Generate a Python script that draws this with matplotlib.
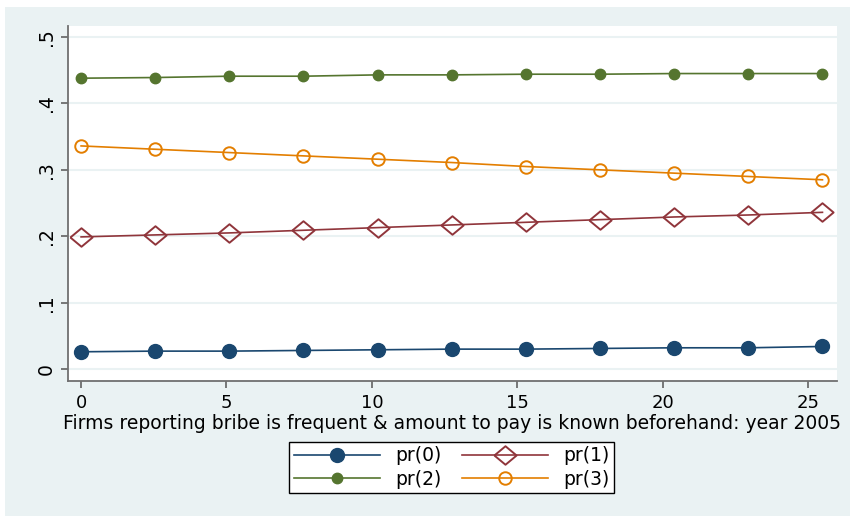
import matplotlib
matplotlib.use("Agg")
import matplotlib.pyplot as plt
from matplotlib.patches import Rectangle

plt.rcParams['font.family'] = ['DejaVu Sans']

x = [0, 2.55, 5.1, 7.65, 10.2, 12.75, 15.3, 17.85, 20.4, 22.95, 25.5]
pr0 = [0.026, 0.027, 0.027, 0.028, 0.029, 0.030, 0.030, 0.031, 0.032, 0.032, 0.034]
pr1 = [0.199, 0.202, 0.205, 0.209, 0.213, 0.217, 0.221, 0.225, 0.229, 0.232, 0.236]
pr2 = [0.438, 0.439, 0.441, 0.441, 0.443, 0.443, 0.444, 0.444, 0.445, 0.445, 0.445]
pr3 = [0.336, 0.331, 0.326, 0.321, 0.316, 0.311, 0.305, 0.300, 0.295, 0.290, 0.285]
labels = ["pr(0)", "pr(1)", "pr(2)", "pr(3)"]
xticks = [0, 5, 10, 15, 20, 25]
yticks = [0, 0.1, 0.2, 0.3, 0.4, 0.5]
yticklabels = ["0", ".1", ".2", ".3", ".4", ".5"]
xlabel = "Firms reporting bribe is frequent & amount to pay is known beforehand: year 2005"

W, H = 850, 516
fig = plt.figure(figsize=(8.5, 5.16), dpi=100)
fig.patch.set_facecolor("white")
bg = "#EAF2F3"
fig.patches.append(Rectangle((5 / W, 0), 845 / W, (H - 7) / H, transform=fig.transFigure,
                             facecolor=bg, edgecolor="none", zorder=-10))

ax = fig.add_axes([68 / W, 1 - 381 / H, (837 - 68) / W, (381 - 26) / H])
ax.set_facecolor("white")

navy = "#1A476F"
maroon = "#90353B"
green = "#55752F"
orange = "#E37E00"

diamond = [(-1.2, 0), (0, 1), (1.2, 0), (0, -1), (-1.2, 0)]

l0, = ax.plot(x, pr0, color=navy, lw=1.2, marker="o", ms=10, mfc=navy, mec=navy, label=labels[0], zorder=3)
l1, = ax.plot(x, pr1, color=maroon, lw=1.2, marker=diamond, ms=16, mfc="none", mec=maroon, mew=1.4, label=labels[1], zorder=3)
l2, = ax.plot(x, pr2, color=green, lw=1.2, marker="o", ms=7.5, mfc=green, mec=green, label=labels[2], zorder=3)
l3, = ax.plot(x, pr3, color=orange, lw=1.2, marker="o", ms=9, mfc="none", mec=orange, mew=1.4, label=labels[3], zorder=3)

ax.set_xlim(-0.45, 26.0)
ax.set_ylim(-0.018, 0.5166)
ax.set_xticks(xticks)
ax.set_xticklabels([str(t) for t in xticks])
ax.set_yticks(yticks)
ax.set_yticklabels(yticklabels, rotation=90, va="center")
ax.grid(axis="y", color=bg, lw=1.5, zorder=0)
ax.set_axisbelow(True)

for s in ["top", "right"]:
    ax.spines[s].set_visible(False)
for s in ["left", "bottom"]:
    ax.spines[s].set_color("#707070")
    ax.spines[s].set_linewidth(1.3)
ax.tick_params(axis="both", direction="out", length=5, width=1.1, color="#555555",
               labelcolor="black")
ax.tick_params(axis="x", pad=4.5, labelsize=13)
ax.tick_params(axis="y", pad=4, labelsize=13.5)
ax.set_xlabel(xlabel, fontsize=13.5, labelpad=1)

leg = fig.legend([l0, l2, l1, l3], [labels[0], labels[2], labels[1], labels[3]],
                 loc="center", bbox_to_anchor=(451.5 / W, 1 - 467.5 / H),
                 ncol=2, frameon=True, fancybox=False, edgecolor="black", facecolor="white",
                 fontsize=13.5, handlelength=4.6, columnspacing=1.1, labelspacing=0.22,
                 borderpad=0.25, handletextpad=0.8, framealpha=1)
leg.get_frame().set_linewidth(1.0)

fig.savefig("out.png", dpi=100)
